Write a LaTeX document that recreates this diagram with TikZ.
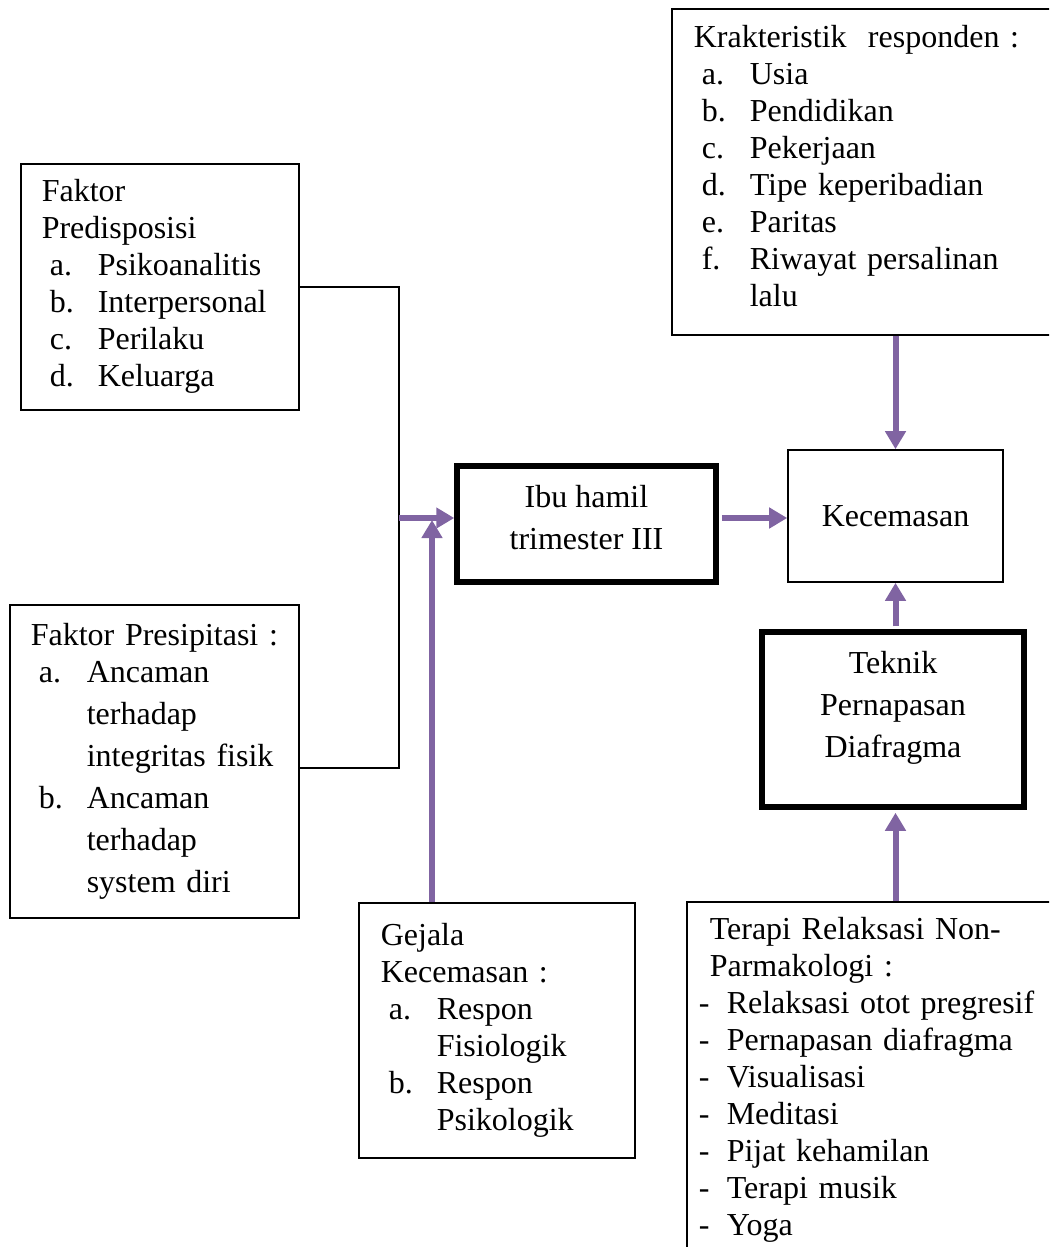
\documentclass[tikz,border=0pt]{standalone}
\usepackage{fontspec}
\setmainfont{Liberation Serif}
\usetikzlibrary{arrows.meta}
\definecolor{ungu}{HTML}{8064A2}
\newcommand{\itm}[2]{\hspace*{8pt}\makebox[48pt][l]{#1}#2}
\newcommand{\strp}[1]{\makebox[28pt][l]{-}#1}

\begin{document}
\begin{tikzpicture}[x=1pt,y=-1pt,
    box/.style={draw,line width=1.6pt,anchor=north west,inner xsep=21pt,inner ysep=0pt,
      align=left,font=\fontsize{32}{37}\selectfont},
    tebal/.style={draw,line width=5.5pt,inner sep=0pt},
    isi/.style={align=center,inner sep=0pt,font=\fontsize{32}{42}\selectfont},
    panah/.style={draw=ungu,line width=6pt,-{Triangle[width=20pt,length=18pt]}}]
  \clip (0,0) rectangle (1049,1247);
  \draw
    (671,8) node[box,inner xsep=22pt,text width=376pt,minimum height=326pt] (kar)
      {Krakteristik~~responden :\\
       \itm{a.}{Usia}\\
       \itm{b.}{Pendidikan}\\
       \itm{c.}{Pekerjaan}\\
       \itm{d.}{Tipe keperibadian}\\
       \itm{e.}{Paritas}\\
       \itm{f.}{Riwayat persalinan}\\
       \hspace*{56pt}lalu\par\kern12pt}
    (20,163) node[box,text width=236pt,minimum height=246pt] (pre)
      {Faktor\\
       Predisposisi\\
       \itm{a.}{Psikoanalitis}\\
       \itm{b.}{Interpersonal}\\
       \itm{c.}{Perilaku}\\
       \itm{d.}{Keluarga}}
    (9,604) node[box,text width=247pt,minimum height=313pt,
      font=\fontsize{32}{42}\selectfont] (pres)
      {\mbox{Faktor Presipitasi :}\\[-5pt]
       \itm{a.}{Ancaman}\\
       \hspace*{56pt}terhadap\\
       \hspace*{56pt}\mbox{integritas fisik}\\
       \itm{b.}{Ancaman}\\
       \hspace*{56pt}terhadap\\
       \hspace*{56pt}system diri}
    (358,902) node[box,inner xsep=22pt,text width=232pt,minimum height=255pt] (gej)
      {Gejala\\
       Kecemasan :\\
       \itm{a.}{Respon}\\
       \hspace*{56pt}Fisiologik\\
       \itm{b.}{Respon}\\
       \hspace*{56pt}Psikologik}
    (686,901) node[box,inner xsep=12pt,text width=376pt,minimum height=356pt] (ter)
      {\hspace*{11pt}\makebox[326pt][s]{Terapi Relaksasi Non-}\\
       \hspace*{11pt}Parmakologi :\\
       \strp{Relaksasi otot pregresif}\\
       \strp{Pernapasan diafragma}\\
       \strp{Visualisasi}\\
       \strp{Meditasi}\\
       \strp{Pijat kehamilan}\\
       \strp{Terapi musik}\\
       \strp{Yoga}}
    (586.5,524) node[tebal,minimum width=259pt,minimum height=116pt] (ibu) {}
    (586.5,518) node[isi] (ibut) {Ibu hamil\\trimester III}
    (895.5,516) node[draw,line width=1.6pt,minimum width=215pt,minimum height=132pt,
      font=\fontsize{32}{37}\selectfont] (kec) {Kecemasan}
    (893,719.5) node[tebal,minimum width=262pt,minimum height=175pt] (tek) {}
    (893,707.5) node[isi] (tekt) {Teknik\\Pernapasan\\Diafragma};
  \coordinate (jn) at (399,518);
  \coordinate (gt) at (432,520);
  \begin{scope}[line width=1.6pt]
    \draw (pre.east) -| (jn) |- ([yshift=-6.5pt]pres.east);
  \end{scope}
  \begin{scope}[panah]
    \draw (jn) -- (jn -| ibu.west);
    \draw (gt |- gej.north) -- (gt);
    \draw[shorten <=3pt] (ibu.east |- jn) -- (kec.west |- jn);
    \draw (kec.north |- kar.south) -- (kec.north);
    \draw[shorten <=3pt] (kec.south |- tek.north) -- (kec.south);
    \draw[shorten >=3pt] (kec.south |- ter.north) -- (kec.south |- tek.south);
  \end{scope}
\end{tikzpicture}
\end{document}
